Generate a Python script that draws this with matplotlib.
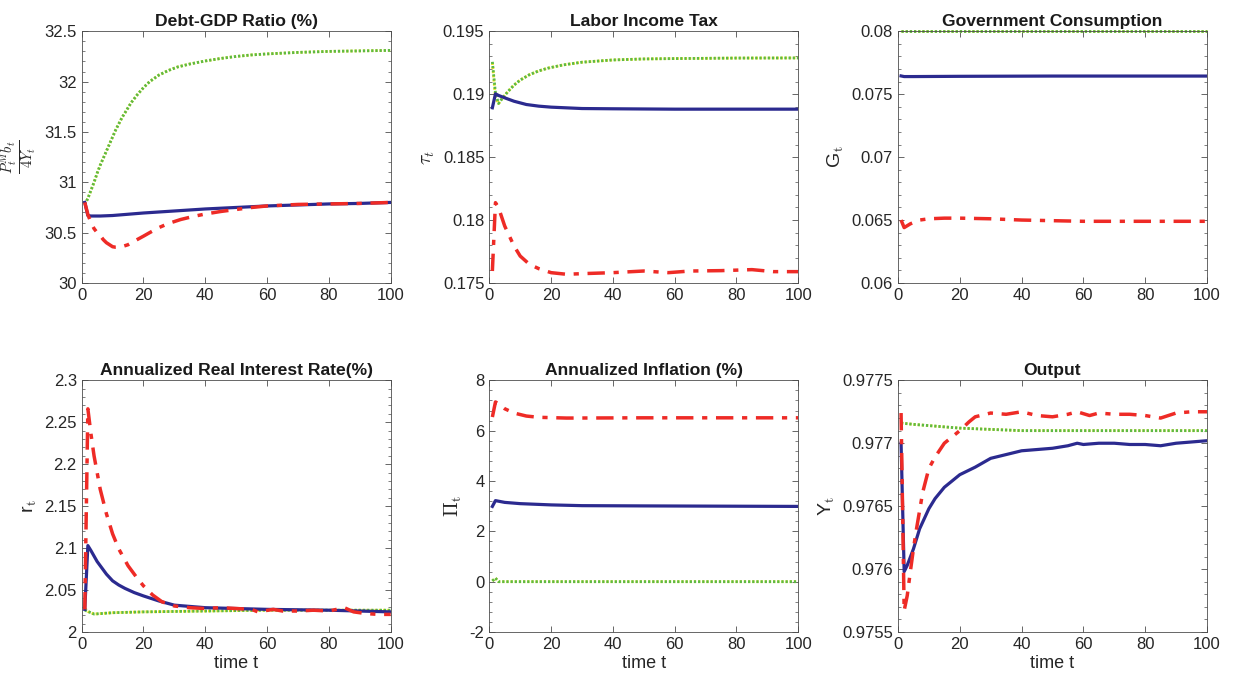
import numpy as np
import matplotlib
matplotlib.use('Agg')
import matplotlib.pyplot as plt
from matplotlib.ticker import AutoMinorLocator

plt.rcParams['font.family'] = ['Liberation Sans', 'DejaVu Sans']
plt.rcParams['mathtext.fontset'] = 'cm'

# ---- data (t, value) ----
# Debt-GDP ratio
debt_t_blue = [1, 2, 3, 6, 10, 20, 30, 40, 50, 60, 70, 80, 90, 100]
debt_blue = [30.80, 30.67, 30.665, 30.665, 30.67, 30.695, 30.715, 30.735, 30.75, 30.765, 30.775, 30.785,
             30.79, 30.80]
debt_t_red = [1, 2, 3, 4, 5, 6, 7, 8, 9, 10, 11, 12, 13, 15, 17, 20, 22, 25, 28, 32, 36, 40, 45, 50, 55,
              60, 70, 80, 90, 100]
debt_red = [30.80, 30.68, 30.60, 30.54, 30.50, 30.47, 30.43, 30.40, 30.38, 30.36, 30.355, 30.355, 30.36,
            30.38, 30.415, 30.465, 30.50, 30.55, 30.59, 30.63, 30.66, 30.685, 30.71, 30.73, 30.75, 30.765,
            30.78, 30.785, 30.79, 30.80]
debt_t_green = [1, 2, 3, 4, 5, 6, 7, 8, 9, 10, 11, 12, 13, 14, 15, 16, 18, 20, 22, 25, 28, 31, 35, 40,
                45, 50, 55, 60, 70, 80, 90, 100]
debt_green = [30.78, 30.84, 30.92, 31.00, 31.09, 31.17, 31.24, 31.31, 31.38, 31.45, 31.52, 31.58, 31.64,
              31.69, 31.74, 31.79, 31.87, 31.94, 32.00, 32.065, 32.11, 32.145, 32.175, 32.205, 32.23, 32.25,
              32.265, 32.275, 32.29, 32.30, 32.305, 32.31]
debt_yellow = debt_green

# Labor income tax
tax_t_blue = [1, 2, 3, 5, 8, 12, 16, 20, 30, 40, 60, 100]
tax_blue = [0.18892, 0.19003, 0.18990, 0.18971, 0.18944, 0.18918, 0.18905, 0.18897, 0.18886, 0.18884,
            0.18881, 0.18881]
tax_t_red = [1, 2, 3, 5, 8, 10, 13, 16, 20, 25, 30, 40, 50, 58, 65, 75, 85, 92, 100]
tax_red = [0.17595, 0.18138, 0.18098, 0.17952, 0.17794, 0.17714, 0.17648, 0.17614, 0.17582, 0.17569,
           0.17574, 0.17582, 0.17595, 0.17582, 0.17595, 0.17598, 0.17606, 0.17590, 0.17590]
tax_t_green = [1, 2, 3, 4, 5, 6, 8, 10, 13, 16, 19, 24, 30, 40, 50, 60, 80, 100]
tax_green = [0.19257, 0.19010, 0.18926, 0.18960, 0.18990, 0.19020, 0.19072, 0.19112, 0.19155, 0.19185,
             0.19207, 0.19233, 0.19254, 0.19272, 0.19280, 0.19283, 0.19287, 0.19288]
tax_yellow = [0.19250, 0.18970, 0.18926, 0.18960, 0.18990, 0.19020, 0.19072, 0.19112, 0.19155, 0.19185,
              0.19207, 0.19233, 0.19254, 0.19272, 0.19280, 0.19283, 0.19287, 0.19288]

# Government consumption
gov_t_blue = [1, 2, 5, 20, 50, 100]
gov_blue = [0.07645, 0.0764, 0.0764, 0.07642, 0.07644, 0.07644]
gov_t_red = [1, 2, 4, 7, 10, 15, 20, 30, 40, 60, 80, 100]
gov_red = [0.0650, 0.0644, 0.0647, 0.0650, 0.0651, 0.06515, 0.06515, 0.0651, 0.0650, 0.0649, 0.0649, 0.0649]
gov_t_green = [1, 100]
gov_green = [0.0800, 0.0800]

# Real interest rate
rate_t_blue = [1, 2, 3, 5, 8, 10, 12, 14, 17, 20, 25, 30, 40, 50, 60, 80, 100]
rate_blue = [2.027, 2.103, 2.097, 2.084, 2.069, 2.061, 2.056, 2.052, 2.047, 2.043, 2.037, 2.032, 2.029,
             2.028, 2.027, 2.026, 2.024]
rate_t_red = [1, 2, 3, 4, 5, 6, 8, 10, 12, 15, 18, 20, 23, 26, 30, 35, 40, 45, 50, 55, 57, 62, 65, 70,
              75, 80, 85, 88, 92, 96, 100]
rate_red = [2.027, 2.266, 2.236, 2.210, 2.190, 2.170, 2.141, 2.117, 2.099, 2.079, 2.064, 2.055, 2.044,
            2.036, 2.031, 2.029, 2.028, 2.029, 2.028, 2.027, 2.024, 2.027, 2.025, 2.025, 2.026, 2.025,
            2.029, 2.024, 2.022, 2.021, 2.021]
rate_t_green = [1, 2, 4, 10, 20, 40, 60, 100]
rate_green = [2.026, 2.0245, 2.0214, 2.023, 2.024, 2.025, 2.026, 2.026]
rate_yellow = [2.028, 2.0245, 2.0214, 2.023, 2.024, 2.025, 2.026, 2.026]

# Inflation
infl_t_blue = [1, 2, 5, 10, 20, 30, 50, 100]
infl_blue = [2.99, 3.22, 3.15, 3.10, 3.05, 3.02, 3.01, 2.99]
infl_t_red = [1, 2, 3, 5, 8, 12, 16, 25, 50, 100]
infl_red = [6.54, 7.14, 7.07, 6.87, 6.70, 6.58, 6.53, 6.50, 6.51, 6.51]
infl_t_green = [1, 2, 3, 100]
infl_green = [0.03, 0.14, 0.00, 0.00]
infl_yellow = infl_green

# Output
out_t_blue = [1, 2, 3, 5, 7, 10, 12, 15, 18, 20, 25, 30, 35, 40, 45, 50, 55, 58, 60, 65, 70, 75, 80,
              85, 90, 95, 100]
out_blue = [0.97700, 0.97598, 0.97603, 0.97616, 0.97632, 0.97648, 0.97656, 0.97665, 0.97671, 0.97675,
            0.97681, 0.97688, 0.97691, 0.97694, 0.97695, 0.97696, 0.97698, 0.97700, 0.97699, 0.97700,
            0.97700, 0.97699, 0.97699, 0.97698, 0.97700, 0.97701, 0.97702]
out_t_red = [1, 2, 3, 4, 5, 6, 8, 10, 12, 15, 18, 20, 23, 25, 30, 35, 40, 45, 50, 55, 58, 62, 65, 70,
             75, 80, 85, 90, 95, 100]
out_red = [0.97724, 0.97567, 0.97579, 0.97598, 0.97616, 0.97632, 0.97661, 0.97680, 0.97689, 0.97700,
           0.97706, 0.97710, 0.97717, 0.97721, 0.97724, 0.97723, 0.97725, 0.97722, 0.97721, 0.97723,
           0.97725, 0.97722, 0.97724, 0.97723, 0.97723, 0.97722, 0.97720, 0.97724, 0.97725, 0.97725]
out_t_green = [1, 5, 10, 20, 30, 40, 60, 100]
out_green = [0.97716, 0.97715, 0.97714, 0.97712, 0.97711, 0.97710, 0.97710, 0.97710]
out_yellow = out_green

BLUE = '#2b2a8f'
RED = '#ee2b26'
GREEN = '#5cb946'
YELLOW = '#f2e61a'

panels = [
    ('Debt-GDP Ratio (%)', r'$\frac{P_t^M b_t}{4Y_t}$', (30, 32.5), np.arange(30, 32.51, 0.5),
     ['30', '30.5', '31', '31.5', '32', '32.5'],
     (debt_t_blue, debt_blue), (debt_t_red, debt_red), (debt_t_green, debt_green), (debt_t_green, debt_yellow)),
    ('Labor Income Tax', r'$\tau_t$', (0.175, 0.195), np.arange(0.175, 0.1951, 0.005),
     ['0.175', '0.18', '0.185', '0.19', '0.195'],
     (tax_t_blue, tax_blue), (tax_t_red, tax_red), (tax_t_green, tax_green), (tax_t_green, tax_yellow)),
    ('Government Consumption', r'G$_\mathrm{t}$', (0.06, 0.08), np.arange(0.06, 0.0801, 0.005),
     ['0.06', '0.065', '0.07', '0.075', '0.08'],
     (gov_t_blue, gov_blue), (gov_t_red, gov_red), (gov_t_green, gov_green), (gov_t_green, gov_green)),
    ('Annualized Real Interest Rate(%)', r'r$_\mathrm{t}$', (2, 2.3), np.arange(2, 2.301, 0.05),
     ['2', '2.05', '2.1', '2.15', '2.2', '2.25', '2.3'],
     (rate_t_blue, rate_blue), (rate_t_red, rate_red), (rate_t_green, rate_green), (rate_t_green, rate_yellow)),
    ('Annualized Inflation (%)', r'$\Pi_\mathrm{t}$', (-2, 8), np.arange(-2, 8.1, 2),
     ['-2', '0', '2', '4', '6', '8'],
     (infl_t_blue, infl_blue), (infl_t_red, infl_red), (infl_t_green, infl_green), (infl_t_green, infl_yellow)),
    ('Output', r'Y$_\mathrm{t}$', (0.9755, 0.9775), np.arange(0.9755, 0.97751, 0.0005),
     ['0.9755', '0.976', '0.9765', '0.977', '0.9775'],
     (out_t_blue, out_blue), (out_t_red, out_red), (out_t_green, out_green), (out_t_green, out_yellow)),
]

fig = plt.figure(figsize=(12.34, 6.84), dpi=100)
lefts = [0.0662, 0.3965, 0.7277]
bottoms = [0.5863, 0.0760]
w, h = 0.2504, 0.3680

for k, (title, ylab, ylim, yt, ytl, blue, red, green, yellow) in enumerate(panels):
    r, c = divmod(k, 3)
    ax = fig.add_axes([lefts[c], bottoms[r], w, h])
    # yellow and green dotted series
    ax.plot(yellow[0], yellow[1], color=YELLOW, lw=2.0, dashes=(0.8, 0.7), dash_capstyle='butt',
            clip_on=False)
    ax.plot(green[0], green[1], color=GREEN, lw=2.0, dashes=(0.8, 0.7), dash_capstyle='butt',
            clip_on=False)
    ax.plot(blue[0], blue[1], '-', color=BLUE, lw=2.3)
    ax.plot(red[0], red[1], color=RED, lw=2.5, dashes=(5, 2.5, 1.5, 2.5))
    ax.set_xlim(0, 100)
    ax.set_ylim(*ylim)
    ax.set_xticks([0, 20, 40, 60, 80, 100])
    ax.set_yticks(yt)
    ax.set_yticklabels(ytl)
    ax.yaxis.set_minor_locator(AutoMinorLocator(5))
    ax.tick_params(which='both', direction='in', top=True, right=True, colors='#4d4d4d',
                   labelcolor='#262626', labelsize=12)
    ax.tick_params(which='major', length=4, width=0.6)
    ax.tick_params(which='minor', length=2, width=0.5)
    for s in ax.spines.values():
        s.set_color('#4d4d4d')
        s.set_linewidth(0.6)
    ax.set_title(title, fontsize=12.6, fontweight='bold', color='#1a1a1a', pad=4)
    ax.set_ylabel(ylab, fontsize=14 if k != 0 else 15, color='#262626', labelpad=4)
    if r == 1:
        ax.set_xlabel('time t', fontsize=13, color='#262626', labelpad=2)

fig.savefig('out.png', dpi=100)
